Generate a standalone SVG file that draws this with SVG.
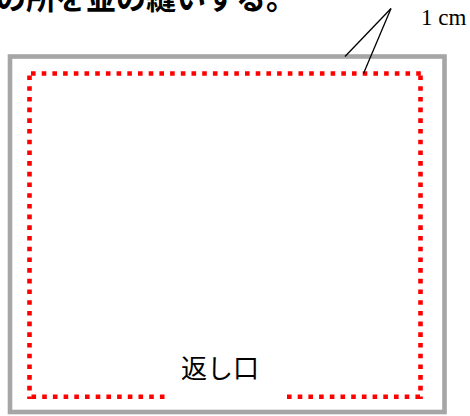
<svg xmlns="http://www.w3.org/2000/svg" width="470" height="416" viewBox="0 0 470 416">
<style>
.jp{font-family:"Noto Sans CJK JP","Noto Sans",sans-serif;fill:#000}
.seam{fill:none;stroke:#ff0000;stroke-width:4.6;stroke-dasharray:4.6 6.1}
.lead{stroke:#000;stroke-width:1.3;fill:none}
</style>
<rect width="470" height="416" fill="#fff"/>
<g id="title"><text class="jp" x="-4" y="9" font-size="30" font-weight="bold">の所を並の縫いする。</text></g>
<g id="fabric"><rect x="10" y="56.5" width="434.5" height="355.5" fill="none" stroke="#a6a6a6" stroke-width="4.6"/></g>
<g id="seam">
<path class="seam" d="M31,73.5 H423"/>
<path class="seam" d="M29.5,75.5 V399"/>
<path class="seam" d="M420.5,75.5 V399"/>
<path class="seam" d="M31.5,396.8 H166"/>
<path class="seam" d="M287,396.8 H423"/>
</g>
<g id="label-gap"><text class="jp" x="181" y="378" font-size="26">返し口</text></g>
<g id="connectors">
<line class="lead" x1="391" y1="8.5" x2="345" y2="56.5"/>
<line class="lead" x1="391" y1="8.5" x2="363.5" y2="73.5"/>
</g>
<g id="label-1cm"><text x="421" y="25" font-family="'Liberation Serif',serif" font-size="23">1 cm</text></g>
</svg>
